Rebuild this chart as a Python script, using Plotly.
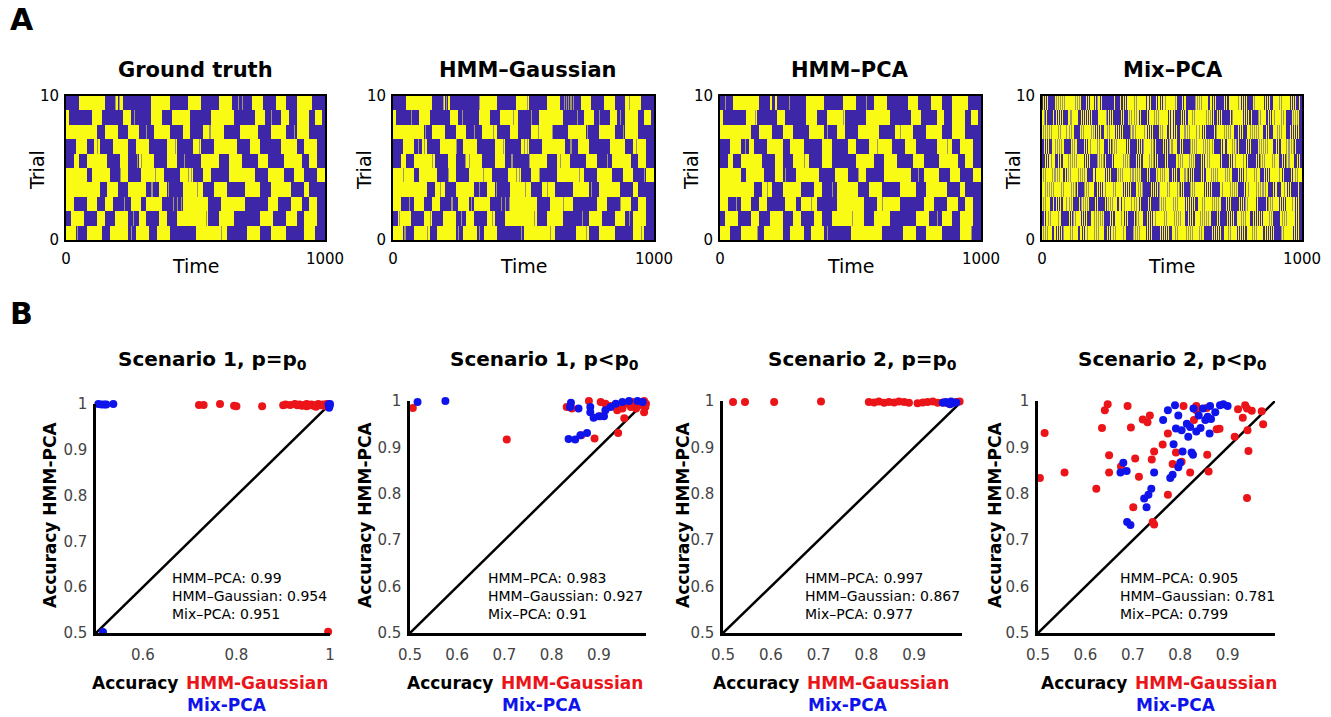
import numpy as np
import plotly.graph_objects as go

W, H = 1331, 717
FONT = "DejaVu Sans"
BLUE = "rgb(62,38,168)"
YELLOW = "rgb(249,251,21)"
GRAY = "rgb(160,152,108)"
RED = "rgb(235,20,25)"
DBLUE = "rgb(15,20,235)"

# ---------------- Panel A data ----------------
TIME_MAX = 1000
BIN = 10          # run lengths are given in bins of 10 time steps
RES = 2           # heatmap column width (time steps)
FLIP_W = 4        # duration of a flicker (time steps)

# ground-truth state runs, trial rows from top (trial 10) to bottom (trial 1)
GT_RUNS = [
    (0, [5, 10, 4, 1, 1, 1, 11, 7, 7, 5, 7, 5, 8, 4, 5, 4, 4, 6, 5]),
    (1, [1, 9, 4, 8, 3, 8, 4, 4, 7, 8, 9, 8, 4, 6, 3, 3, 5, 2, 3, 1]),
    (1, [12, 3, 5, 4, 4, 6, 6, 5, 3, 5, 8, 6, 7, 5, 6, 4, 5, 6]),
    (0, [4, 4, 3, 2, 5, 6, 3, 5, 7, 4, 6, 3, 5, 9, 5, 4, 8, 6, 3, 5, 3]),
    (0, [3, 2, 3, 8, 5, 3, 4, 6, 5, 4, 9, 7, 4, 5, 6, 4, 6, 7, 3, 3, 3]),
    (1, [8, 2, 7, 4, 3, 5, 9, 6, 5, 4, 3, 7, 10, 5, 6, 4, 4, 5, 3]),
    (1, [13, 3, 4, 4, 7, 5, 3, 6, 8, 4, 5, 7, 6, 4, 8, 5, 2, 6]),
    (1, [3, 5, 4, 3, 3, 7, 4, 2, 6, 8, 10, 5, 9, 9, 4, 5, 4, 3, 3, 3]),
    (0, [2, 5, 5, 3, 4, 5, 4, 3, 5, 3, 4, 12, 4, 6, 10, 5, 5, 4, 3, 5, 3]),
    (1, [4, 4, 6, 3, 7, 3, 5, 3, 5, 10, 12, 8, 5, 4, 6, 7, 4, 4, 4]),
]

# thin flickers (time steps) seen in each image, rows from top to bottom
GT_FLICKER = [
    [190, 205, 665, 680], [265, 790], [310, 555, 880], [118, 420, 515],
    [275, 290, 455], [210, 345, 470, 485], [330, 395, 505],
    [225, 415, 430, 445], [260, 540], [45, 250, 600],
]
HMMG_FLICKER = [
    [190, 205, 330, 512, 655, 672, 688, 905], [70, 265, 460, 530, 705, 790, 870],
    [125, 310, 385, 555, 610, 745, 880], [95, 118, 240, 420, 500, 515, 680, 930],
    [150, 275, 290, 455, 520, 640, 820], [40, 210, 345, 470, 485, 560, 715, 960],
    [180, 330, 395, 505, 590, 760], [60, 225, 300, 415, 430, 445, 650, 870],
    [25, 140, 260, 380, 540, 725, 905], [45, 130, 250, 330, 490, 600, 740, 950],
]
HMMP_FLICKER = [
    [20, 265, 560], [135, 470], [410, 690], [95, 600, 870], [320],
    [250, 530, 760], [180, 430], [60, 350, 620], [505, 830], [140, 410, 960],
]
MIXP_FLICKER = [
    [4, 12, 19, 52, 60, 71, 77, 84, 128, 136, 143, 170, 178, 186, 205, 212, 221, 229, 276, 301, 310, 318, 326, 355, 362, 402, 409, 416, 441, 449, 457, 466, 474, 511, 540, 548, 589, 597, 605, 613, 648, 656, 664, 700, 708, 752, 760, 768, 776, 784, 817, 851, 859, 866, 874, 910, 918, 951, 959, 967, 975, 990],
    [8, 15, 45, 53, 61, 69, 77, 106, 113, 150, 157, 165, 173, 181, 189, 215, 246, 254, 262, 270, 305, 313, 336, 344, 352, 360, 368, 376, 405, 430, 438, 446, 482, 490, 498, 506, 535, 543, 551, 578, 586, 633, 641, 649, 657, 672, 680, 688, 724, 732, 771, 779, 787, 795, 803, 831, 839, 870, 878, 886, 894, 921, 929, 965, 973, 981],
    [3, 11, 19, 27, 35, 62, 70, 95, 103, 111, 119, 148, 156, 190, 198, 206, 214, 222, 250, 258, 285, 293, 301, 309, 340, 348, 356, 392, 400, 408, 416, 424, 455, 463, 490, 498, 506, 514, 548, 556, 564, 595, 603, 611, 619, 627, 660, 668, 700, 708, 716, 724, 755, 763, 771, 800, 808, 816, 824, 832, 862, 870, 905, 913, 921, 955, 963, 971, 979, 987],
    [6, 14, 22, 50, 58, 66, 74, 82, 115, 123, 131, 160, 168, 176, 184, 212, 220, 252, 260, 268, 276, 284, 320, 328, 336, 365, 373, 381, 389, 420, 428, 436, 466, 474, 482, 490, 498, 530, 538, 570, 578, 586, 594, 620, 628, 636, 644, 652, 690, 698, 730, 738, 746, 754, 785, 793, 801, 835, 843, 851, 859, 867, 900, 908, 940, 948, 956, 964, 972],
    [10, 18, 26, 34, 60, 68, 100, 108, 116, 124, 132, 165, 173, 181, 210, 218, 226, 234, 242, 270, 278, 310, 318, 326, 334, 362, 370, 378, 410, 418, 426, 434, 442, 475, 483, 515, 523, 531, 539, 565, 573, 581, 612, 620, 628, 636, 644, 680, 688, 720, 728, 736, 744, 775, 783, 791, 822, 830, 838, 846, 854, 885, 893, 925, 933, 941, 949, 980, 988],
    [2, 10, 40, 48, 56, 64, 90, 98, 106, 138, 146, 154, 162, 170, 198, 206, 238, 246, 254, 262, 292, 300, 308, 340, 348, 356, 364, 372, 402, 410, 445, 453, 461, 469, 500, 508, 516, 548, 556, 564, 572, 580, 610, 618, 650, 658, 666, 674, 705, 713, 721, 752, 760, 768, 776, 784, 815, 823, 855, 863, 871, 879, 910, 918, 926, 958, 966, 974, 982],
    [12, 20, 28, 36, 44, 72, 80, 112, 120, 128, 136, 162, 170, 178, 210, 218, 226, 234, 242, 275, 283, 315, 323, 331, 339, 368, 376, 384, 418, 426, 434, 442, 450, 480, 488, 520, 528, 536, 544, 570, 578, 586, 618, 626, 634, 642, 650, 684, 692, 725, 733, 741, 749, 778, 786, 794, 825, 833, 841, 849, 857, 890, 898, 930, 938, 946, 954, 985],
    [5, 13, 45, 53, 61, 69, 95, 103, 111, 142, 150, 158, 166, 174, 205, 213, 245, 253, 261, 269, 298, 306, 314, 345, 353, 361, 369, 377, 408, 416, 450, 458, 466, 474, 505, 513, 521, 552, 560, 568, 576, 584, 615, 623, 655, 663, 671, 679, 708, 716, 724, 758, 766, 774, 782, 790, 820, 828, 860, 868, 876, 884, 915, 923, 931, 962, 970, 978, 986],
    [9, 17, 25, 33, 62, 70, 102, 110, 118, 126, 155, 163, 171, 200, 208, 216, 224, 232, 262, 270, 302, 310, 318, 326, 355, 363, 371, 405, 413, 421, 429, 437, 468, 476, 508, 516, 524, 532, 560, 568, 576, 608, 616, 624, 632, 640, 672, 680, 712, 720, 728, 736, 765, 773, 781, 812, 820, 828, 836, 844, 875, 883, 915, 923, 931, 939, 968, 976, 984],
    [3, 11, 19, 48, 56, 64, 72, 80, 108, 116, 148, 156, 164, 172, 200, 208, 216, 250, 258, 266, 274, 282, 310, 318, 350, 358, 366, 374, 402, 410, 418, 452, 460, 468, 476, 484, 512, 520, 552, 560, 568, 576, 605, 613, 621, 655, 663, 671, 679, 687, 715, 723, 755, 763, 771, 779, 808, 816, 824, 858, 866, 874, 882, 890, 920, 928, 960, 968, 976, 984],
]
HM_TITLES = ["Ground truth", "HMM–Gaussian", "HMM–PCA", "Mix–PCA"]

# ---------------- Panel B data ----------------
SC_TITLES = ["Scenario 1, p=p<sub>0</sub>", "Scenario 1, p<p<sub>0</sub>",
             "Scenario 2, p=p<sub>0</sub>", "Scenario 2, p<p<sub>0</sub>"]
SC_STATS = [("0.99", "0.954", "0.951"), ("0.983", "0.927", "0.91"),
            ("0.997", "0.867", "0.977"), ("0.905", "0.781", "0.799")]

S1A_RED_X = [0.72, 0.73, 0.765, 0.795, 0.80, 0.855, 0.90, 0.905, 0.915, 0.925, 0.93, 0.935, 0.94, 0.945, 0.95, 0.955, 0.96, 0.965, 0.97, 0.975, 0.98, 0.985, 0.99, 0.993, 0.996, 0.998, 0.97, 0.95, 0.99, 0.996]
S1A_RED_Y = [0.998, 0.998, 1.0, 0.996, 0.995, 0.995, 0.997, 0.999, 0.998, 1.0, 0.997, 0.999, 0.996, 0.998, 1.0, 0.997, 0.999, 0.996, 0.998, 1.0, 0.997, 0.999, 0.998, 1.0, 0.997, 0.999, 0.994, 0.995, 0.995, 0.503]
S1A_BLUE_X = [0.505, 0.512, 0.518, 0.522, 0.537, 0.997, 0.999, 0.998, 1.0, 0.515]
S1A_BLUE_Y = [1.0, 0.999, 0.999, 0.999, 1.0, 0.999, 0.995, 0.992, 1.0, 0.502]

S1B_RED_X = [0.506, 0.705, 0.832, 0.843, 0.879, 0.904, 0.914, 0.925, 0.904, 0.939, 0.954, 0.941, 0.863, 0.891, 0.957, 0.971, 0.986, 0.996, 0.996, 0.979, 0.968, 0.943, 0.95, 1.0, 0.9986]
S1B_RED_Y = [0.985, 0.917, 0.987, 0.984, 1.0, 0.998, 0.994, 0.989, 0.967, 0.98, 0.963, 0.931, 0.926, 0.919, 0.994, 0.998, 0.991, 0.976, 1.0, 0.984, 0.987, 0.991, 0.984, 0.994, 0.987]
S1B_BLUE_X = [0.516, 0.575, 0.841, 0.857, 0.882, 0.882, 0.889, 0.90, 0.911, 0.914, 0.925, 0.936, 0.95, 0.964, 0.982, 0.993, 0.836, 0.85, 0.861, 0.875, 0.839]
S1B_BLUE_Y = [0.998, 1.0, 0.996, 0.984, 0.987, 0.976, 0.964, 0.967, 0.967, 0.98, 0.987, 0.994, 0.998, 1.0, 1.0, 0.998, 0.918, 0.917, 0.926, 0.931, 0.987]

S2A_RED_X = [0.521, 0.546, 0.607, 0.705, 0.805, 0.816, 0.826, 0.837, 0.847, 0.858, 0.868, 0.879, 0.889, 0.907, 0.918, 0.928, 0.939, 0.949, 0.96, 0.97, 0.988, 0.995]
S2A_RED_Y = [0.998, 0.998, 0.998, 0.999, 0.998, 0.997, 0.999, 0.996, 0.998, 0.997, 0.999, 0.998, 0.996, 0.995, 0.997, 0.998, 0.999, 0.996, 0.997, 0.995, 0.998, 0.999]
S2A_BLUE_X = [0.96, 0.966, 0.972, 0.977, 0.982, 0.988, 0.975]
S2A_BLUE_Y = [0.996, 0.998, 0.995, 0.999, 0.996, 0.997, 0.993]

S2B_RED_X = [0.504, 0.514, 0.556, 0.623, 0.635, 0.641, 0.647, 0.65, 0.65, 0.675, 0.689, 0.696, 0.701, 0.705, 0.713, 0.721, 0.731, 0.736, 0.74, 0.745, 0.742, 0.745, 0.763, 0.774, 0.774, 0.784, 0.791, 0.803, 0.807, 0.821, 0.829, 0.834, 0.834, 0.856, 0.857, 0.86, 0.877, 0.883, 0.915, 0.922, 0.932, 0.937, 0.941, 0.942, 0.944, 0.941, 0.951, 0.972, 0.975]
S2B_RED_Y = [0.834, 0.931, 0.846, 0.811, 0.942, 0.98, 0.993, 0.883, 0.846, 0.859, 0.989, 0.943, 0.771, 0.876, 0.837, 0.96, 0.954, 0.969, 0.874, 0.891, 0.739, 0.734, 0.906, 0.798, 0.93, 0.864, 0.889, 0.869, 0.989, 0.846, 0.959, 0.989, 0.98, 0.985, 0.884, 0.848, 0.939, 0.94, 0.923, 0.982, 0.964, 0.991, 0.984, 0.937, 0.892, 0.791, 0.979, 0.978, 0.95]
S2B_BLUE_X = [0.68, 0.674, 0.687, 0.688, 0.695, 0.724, 0.729, 0.733, 0.739, 0.745, 0.764, 0.774, 0.779, 0.784, 0.786, 0.789, 0.791, 0.796, 0.796, 0.80, 0.803, 0.805, 0.814, 0.817, 0.821, 0.824, 0.827, 0.828, 0.834, 0.839, 0.843, 0.848, 0.853, 0.858, 0.862, 0.863, 0.865, 0.874, 0.884, 0.891, 0.90]
S2B_BLUE_Y = [0.867, 0.846, 0.849, 0.739, 0.733, 0.79, 0.771, 0.798, 0.811, 0.846, 0.959, 0.98, 0.834, 0.841, 0.907, 0.991, 0.941, 0.969, 0.857, 0.867, 0.937, 0.891, 0.951, 0.923, 0.944, 0.889, 0.884, 0.984, 0.934, 0.969, 0.942, 0.984, 0.959, 0.966, 0.93, 0.989, 0.961, 0.976, 0.991, 0.993, 0.989]

SCATTER_DATA = [
    (S1A_RED_X, S1A_RED_Y, S1A_BLUE_X, S1A_BLUE_Y),
    (S1B_RED_X, S1B_RED_Y, S1B_BLUE_X, S1B_BLUE_Y),
    (S2A_RED_X, S2A_RED_Y, S2A_BLUE_X, S2A_BLUE_Y),
    (S2B_RED_X, S2B_RED_Y, S2B_BLUE_X, S2B_BLUE_Y),
]


# ---------------- helpers ----------------
def runs_to_row(first, runs):
    n = TIME_MAX // RES
    row = np.zeros(n)
    state, pos = first, 0
    for r in runs:
        a, b = pos * BIN // RES, min((pos + r) * BIN // RES, n)
        row[a:b] = state
        state, pos = 1 - state, pos + r
    return row


def flicker(row, times, on_blue=0.5, on_yellow=0.5):
    row = row.copy()
    for t in times:
        a, b = t // RES, min((t + FLIP_W) // RES, len(row))
        seg = row[a:b]
        row[a:b] = np.where(seg < 0.5, on_blue, on_yellow)
    return row


gt_base = [runs_to_row(f, r) for f, r in GT_RUNS]
gt = [flicker(r, fl) for r, fl in zip(gt_base, GT_FLICKER)]
hmmg = [flicker(r, fl) for r, fl in zip(gt, HMMG_FLICKER)]
hmmp = [flicker(r, fl) for r, fl in zip(gt_base, HMMP_FLICKER)]
mixp = [flicker(r, fl, 1.0, 0.5) for r, fl in zip(gt_base, MIXP_FLICKER)]
# heatmap z rows go bottom -> top
HM_Z = [np.array(m[::-1]) for m in (gt, hmmg, hmmp, mixp)]

xc = np.arange(RES / 2, TIME_MAX, RES)
yc = np.arange(0.5, 10, 1.0)


def px_x(a, b):
    return [a / W, b / W]


def px_y(top, bottom):
    return [1 - bottom / H, 1 - top / H]


def P(x, y, xanchor="center", yanchor="middle"):
    return dict(x=x / W, y=1 - y / H, xref="paper", yref="paper",
                xanchor=xanchor, yanchor=yanchor, showarrow=False)


fig = go.Figure()
layout = {}
annotations = []

# ---------------- Panel A ----------------
HM_X = [(66, 325), (393, 654), (720, 981), (1042, 1302)]
HM_TOP, HM_BOT = 96, 240
HM_TITLE_X = [195, 528, 850, 1173]
for i, z in enumerate(HM_Z):
    n = i + 1
    sx = "" if n == 1 else str(n)
    fig.add_trace(go.Heatmap(
        z=z, x=xc, y=yc, zmin=0, zmax=1, showscale=False,
        colorscale=[[0, BLUE], [0.5, GRAY], [1, YELLOW]], hoverinfo="skip",
        xaxis="x" + sx, yaxis="y" + sx))
    layout["xaxis" + sx] = dict(
        domain=px_x(*HM_X[i]), anchor="y" + sx, range=[0, TIME_MAX],
        showline=True, mirror=True, linecolor="black", linewidth=2,
        ticks="", tickvals=[0, 1000], ticktext=["0", "1000"],
        tickfont=dict(family=FONT, size=15, color="black"), automargin=False,
        showgrid=False, zeroline=False, ticklabelstandoff=4, fixedrange=True)
    layout["yaxis" + sx] = dict(
        domain=px_y(HM_TOP, HM_BOT), anchor="x" + sx, range=[0, 10],
        showline=True, mirror=True, linecolor="black", linewidth=2,
        ticks="", tickvals=[0, 10], ticktext=["0", "10"],
        tickfont=dict(family=FONT, size=15, color="black"), automargin=False,
        showgrid=False, zeroline=False, ticklabelstandoff=2, fixedrange=True)
    annotations.append(dict(**P(HM_TITLE_X[i], 70), text="<b>%s</b>" % HM_TITLES[i],
                            font=dict(family=FONT, size=21, color="black")))
    cx = (HM_X[i][0] + HM_X[i][1]) / 2
    annotations.append(dict(**P(cx, 266), text="Time",
                            font=dict(family=FONT, size=19, color="black")))
    annotations.append(dict(**P(HM_X[i][0] - 29, 170), text="Trial", textangle=-90,
                            font=dict(family=FONT, size=19, color="black")))

# ---------------- Panel B ----------------
SC_X = [(96, 330), (410, 646), (723, 962), (1038, 1275)]
SC_TOP, SC_BOT = 401, 633
SC_TITLE_X = [212, 544, 862, 1172]
SC_YLAB_X = [50, 365, 683, 995]
SC_STAT_X = [170, 486, 803, 1118]
SC_ACC_R = [180, 495, 801, 1129]
SC_HG_L = [184, 499, 805, 1133]
for i, (rx, ry, bx, by) in enumerate(SCATTER_DATA):
    n = i + 5
    sx = str(n)
    fig.add_trace(go.Scatter(x=[0.5, 1.0], y=[0.5, 1.0], mode="lines",
                             line=dict(color="black", width=2.5), hoverinfo="skip",
                             xaxis="x" + sx, yaxis="y" + sx, cliponaxis=False))
    fig.add_trace(go.Scatter(x=rx, y=ry, mode="markers", cliponaxis=False,
                             marker=dict(color=RED, size=8, line=dict(width=0)),
                             xaxis="x" + sx, yaxis="y" + sx))
    fig.add_trace(go.Scatter(x=bx, y=by, mode="markers", cliponaxis=False,
                             marker=dict(color=DBLUE, size=8, line=dict(width=0)),
                             xaxis="x" + sx, yaxis="y" + sx))
    if i == 0:
        xt = [0.6, 0.8, 1.0]
        xtt = ["0.6", "0.8", "1"]
    else:
        xt = [0.5, 0.6, 0.7, 0.8, 0.9]
        xtt = ["0.5", "0.6", "0.7", "0.8", "0.9"]
    top = 404 if i == 0 else SC_TOP
    layout["xaxis" + sx] = dict(
        domain=px_x(*SC_X[i]), anchor="y" + sx, range=[0.5, 1.0],
        showline=True, linecolor="black", linewidth=2.5, mirror=False,
        ticks="", tickvals=xt, ticktext=xtt, automargin=False,
        tickfont=dict(family=FONT, size=15, color="#444"),
        showgrid=False, zeroline=False, ticklabelstandoff=6, fixedrange=True)
    layout["yaxis" + sx] = dict(
        domain=px_y(top, SC_BOT), anchor="x" + sx, range=[0.5, 1.0],
        showline=True, linecolor="black", linewidth=2.5, mirror=False,
        ticks="", tickvals=[0.5, 0.6, 0.7, 0.8, 0.9, 1.0],
        ticktext=["0.5", "0.6", "0.7", "0.8", "0.9", "1"], automargin=False,
        tickfont=dict(family=FONT, size=15, color="#444"),
        showgrid=False, zeroline=False, ticklabelstandoff=3, fixedrange=True)
    annotations.append(dict(**P(SC_TITLE_X[i], 360), text="<b>%s</b>" % SC_TITLES[i],
                            font=dict(family=FONT, size=20, color="black")))
    annotations.append(dict(**P(SC_YLAB_X[i], 515), text="<b>Accuracy HMM-PCA</b>",
                            textangle=-90, font=dict(family=FONT, size=17, color="black")))
    s = SC_STATS[i]
    annotations.append(dict(**P(SC_STAT_X[i], 596, xanchor="left"), align="left",
                            text="HMM–PCA: %s<br>HMM–Gaussian: %s<br>Mix–PCA: %s" % s,
                            font=dict(family=FONT, size=14, color="black")))
    annotations.append(dict(**P(SC_ACC_R[i], 683, xanchor="right"), text="<b>Accuracy</b>",
                            font=dict(family=FONT, size=17, color="black")))
    annotations.append(dict(**P(SC_HG_L[i], 683, xanchor="left"), text="<b>HMM-Gaussian</b>",
                            font=dict(family=FONT, size=17, color=RED)))
    annotations.append(dict(**P(SC_HG_L[i] + 1, 705, xanchor="left"), text="<b>Mix-PCA</b>",
                            font=dict(family=FONT, size=17, color=DBLUE)))

annotations.append(dict(**P(22, 20), text="<b>A</b>",
                        font=dict(family=FONT, size=30, color="black")))
annotations.append(dict(**P(21, 314), text="<b>B</b>",
                        font=dict(family=FONT, size=30, color="black")))

fig.update_layout(
    template="none",
    width=W, height=H, margin=dict(l=0, r=0, t=0, b=0, pad=0), autosize=False,
    paper_bgcolor="white", plot_bgcolor="white", showlegend=False,
    annotations=annotations, font=dict(family=FONT), **layout)

fig.write_html("out.html", config={"displayModeBar": False},
               post_script="document.body.style.margin='0px';document.body.style.overflow='hidden';")
